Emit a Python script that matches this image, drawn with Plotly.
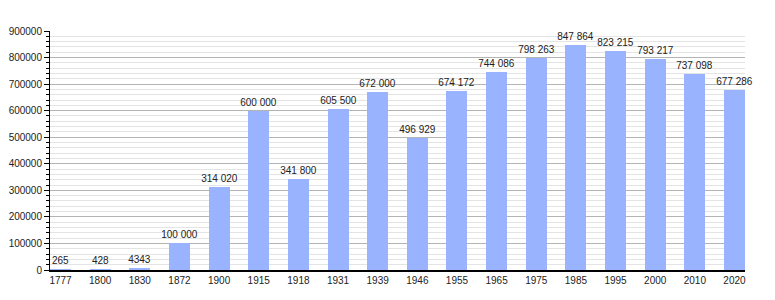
import plotly.graph_objects as go

years = ["1777", "1800", "1830", "1872", "1900", "1915", "1918", "1931", "1939", "1946",
         "1955", "1965", "1975", "1985", "1995", "2000", "2010", "2020"]
population = [265, 428, 4343, 100000, 314020, 600000, 341800, 605500, 672000, 496929,
              674172, 744086, 798263, 847864, 823215, 793217, 737098, 677286]
labels = ["265", "428", "4343", "100 000", "314 020", "600 000", "341 800", "605 500",
          "672 000", "496 929", "674 172", "744 086", "798 263", "847 864", "823 215",
          "793 217", "737 098", "677 286"]

fig = go.Figure(go.Bar(
    x=years, y=population, text=labels, textposition="outside",
    textfont=dict(family="Liberation Sans", size=10, color="#222"),
    marker=dict(color="#99b3ff", line=dict(width=0)),
    width=0.53, cliponaxis=False,
))

fig.update_layout(
    width=775, height=300,
    margin=dict(l=50, r=30, t=31, b=30, autoexpand=False),
    plot_bgcolor="white", paper_bgcolor="white",
    showlegend=False,
    font=dict(family="Liberation Sans", size=10, color="#222"),
    bargap=0,
    uniformtext=dict(minsize=10, mode="show"),
)
fig.update_xaxes(
    type="category", range=[-0.265, 17.265], automargin=False,
    showline=True, linecolor="black", linewidth=1.5,
    ticks="", showgrid=False, tickfont=dict(size=10),
)
fig.update_yaxes(
    range=[0, 900000], dtick=100000, tickformat="d", automargin=False,
    showline=True, linecolor="black", linewidth=1,
    ticks="outside", ticklen=5, tickcolor="black",
    gridcolor="#b4b4b4", gridwidth=1, zeroline=False,
    tickfont=dict(size=10),
    minor=dict(dtick=20000, showgrid=True, gridcolor="#e4e4e4", ticks="outside",
               ticklen=3, tickcolor="black"),
)

fig.write_html("out.html", config={"displayModeBar": False},
               post_script="document.body.style.margin='0';document.body.style.overflow='hidden';")
